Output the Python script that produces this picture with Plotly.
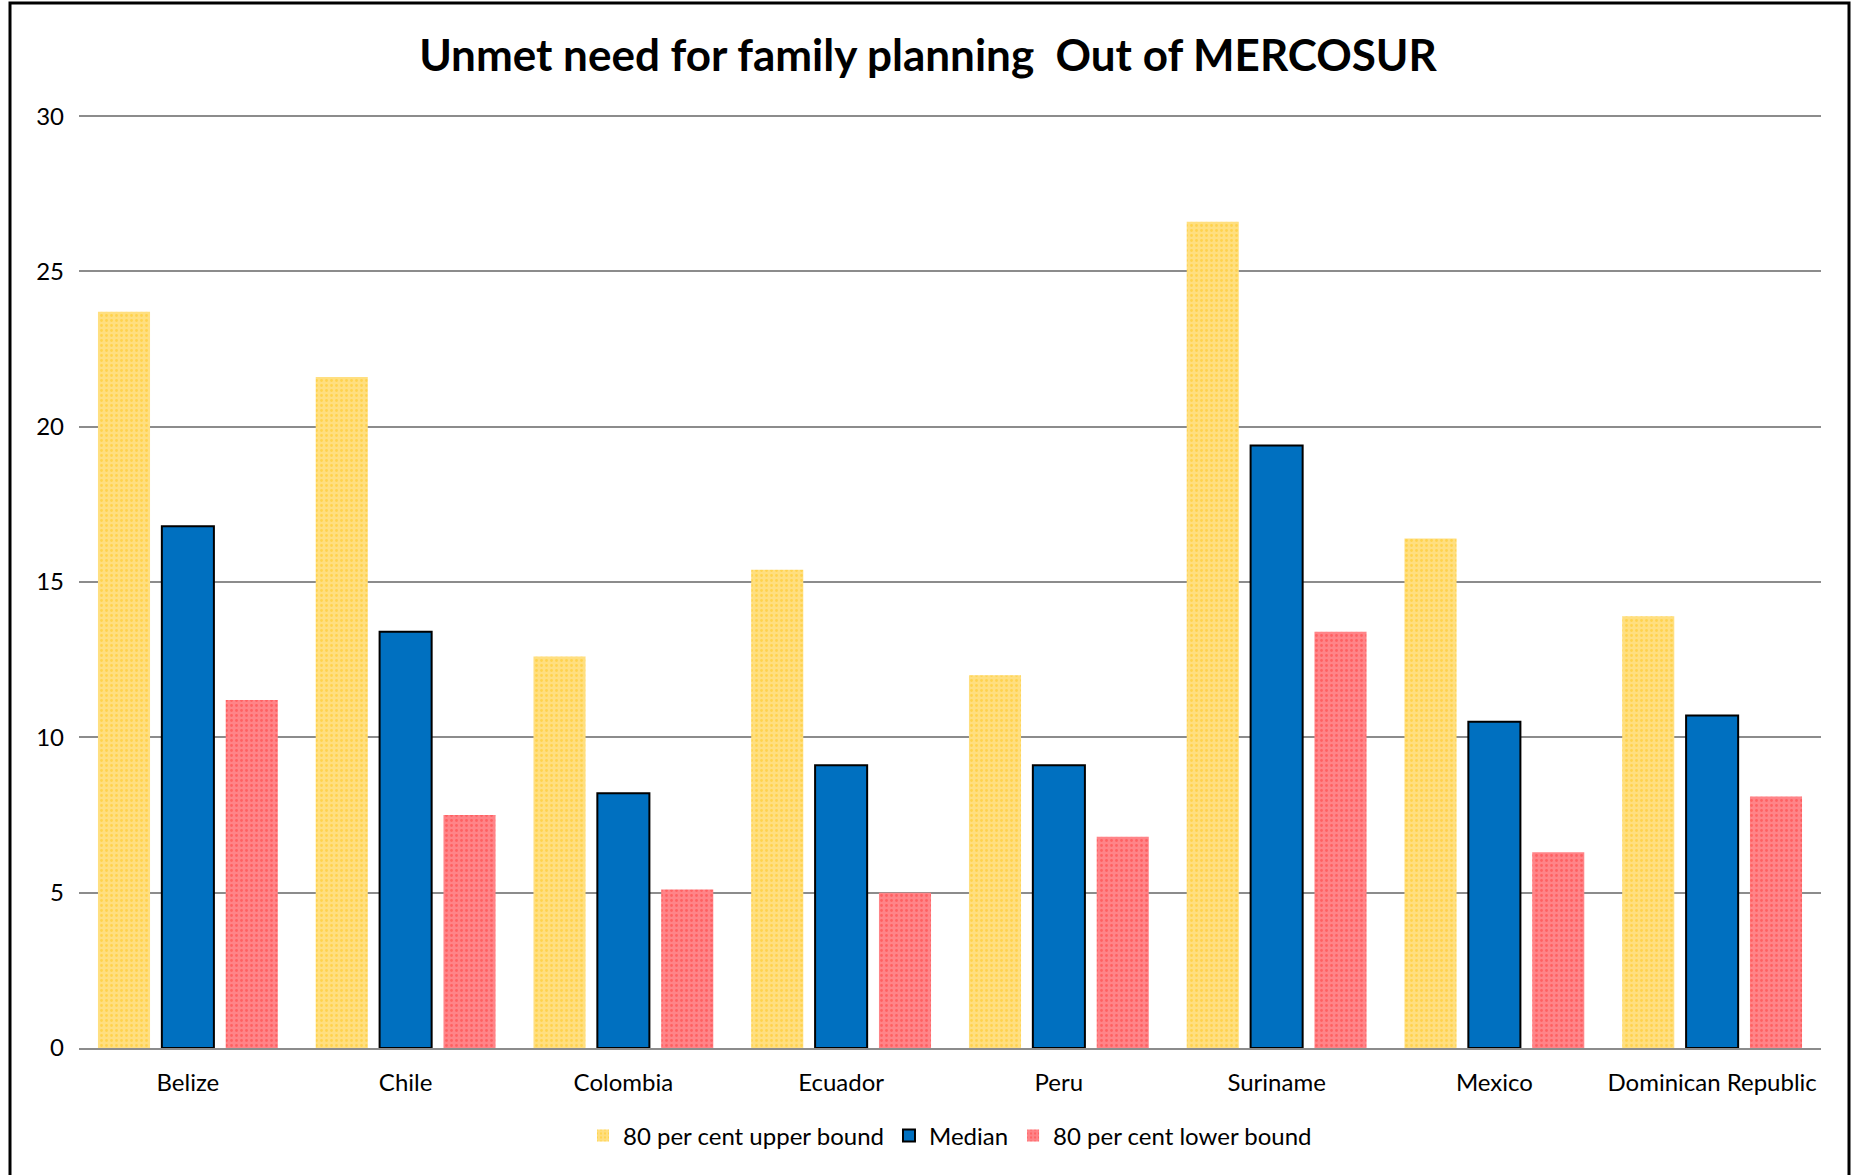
import plotly.graph_objects as go

categories = ["Belize", "Chile", "Colombia", "Ecuador", "Peru", "Suriname", "Mexico", "Dominican Republic"]
upper = [23.7, 21.6, 12.6, 15.4, 12.0, 26.6, 16.4, 13.9]
median = [16.8, 13.4, 8.2, 9.1, 9.1, 19.4, 10.5, 10.7]
lower = [11.2, 7.5, 5.1, 5.0, 6.8, 13.4, 6.3, 8.1]
y_ticks = [0, 5, 10, 15, 20, 25, 30]

FONT = "Lato"

fig = go.Figure()
fig.add_trace(go.Bar(
    x=categories, y=upper, name="80 per cent upper bound",
    marker=dict(color="#FFDC78", line=dict(width=0),
                pattern=dict(shape=".", fgcolor="#FFC61A", bgcolor="#FFDF80", size=5, solidity=0.25)),
))
fig.add_trace(go.Bar(
    x=categories, y=median, name="Median",
    marker=dict(color="#0070C0", line=dict(color="#000000", width=2)),
))
fig.add_trace(go.Bar(
    x=categories, y=lower, name="80 per cent lower bound",
    marker=dict(color="#FF8084", line=dict(width=0),
                pattern=dict(shape=".", fgcolor="#FF3B3B", bgcolor="#FF8488", size=5, solidity=0.25)),
))

fig.update_layout(
    width=1856, height=1175,
    margin=dict(l=79, r=35, t=113, b=127),
    paper_bgcolor="white", plot_bgcolor="white",
    barmode="group", bargap=0.12, bargroupgap=0.185,
    font=dict(family=FONT, color="#000000"),
    title=dict(text="<b>Unmet need for family planning  Out of MERCOSUR</b>",
               x=0.5, xanchor="center", y=1 - 56 / 1175, yanchor="middle",
               font=dict(family=FONT, size=44, color="#000000")),
    legend=dict(orientation="h", x=0.5, xanchor="center", y=-0.094, yanchor="middle",
                font=dict(family=FONT, size=24), itemwidth=30, traceorder="normal"),
    showlegend=True,
)
fig.update_yaxes(range=[0, 30.1], tickvals=y_ticks, showgrid=True, gridcolor="#8C8C8C", gridwidth=1.5,
                 zeroline=False, showline=False, ticks="", tickfont=dict(family=FONT, size=24),
                 ticklabelstandoff=14)
fig.update_xaxes(showline=True, linecolor="#8C8C8C", linewidth=2, ticks="",
                 tickfont=dict(family=FONT, size=24), ticklabelstandoff=12)

fig.add_shape(type="rect", xref="paper", yref="paper",
              x0=(10 - 79) / 1742, x1=(1849 - 79) / 1742,
              y0=(1048 - 1185) / 935, y1=(1048 - 3) / 935,
              line=dict(color="#000000", width=3), fillcolor="rgba(0,0,0,0)", layer="below")

fig.write_html("out.html")
